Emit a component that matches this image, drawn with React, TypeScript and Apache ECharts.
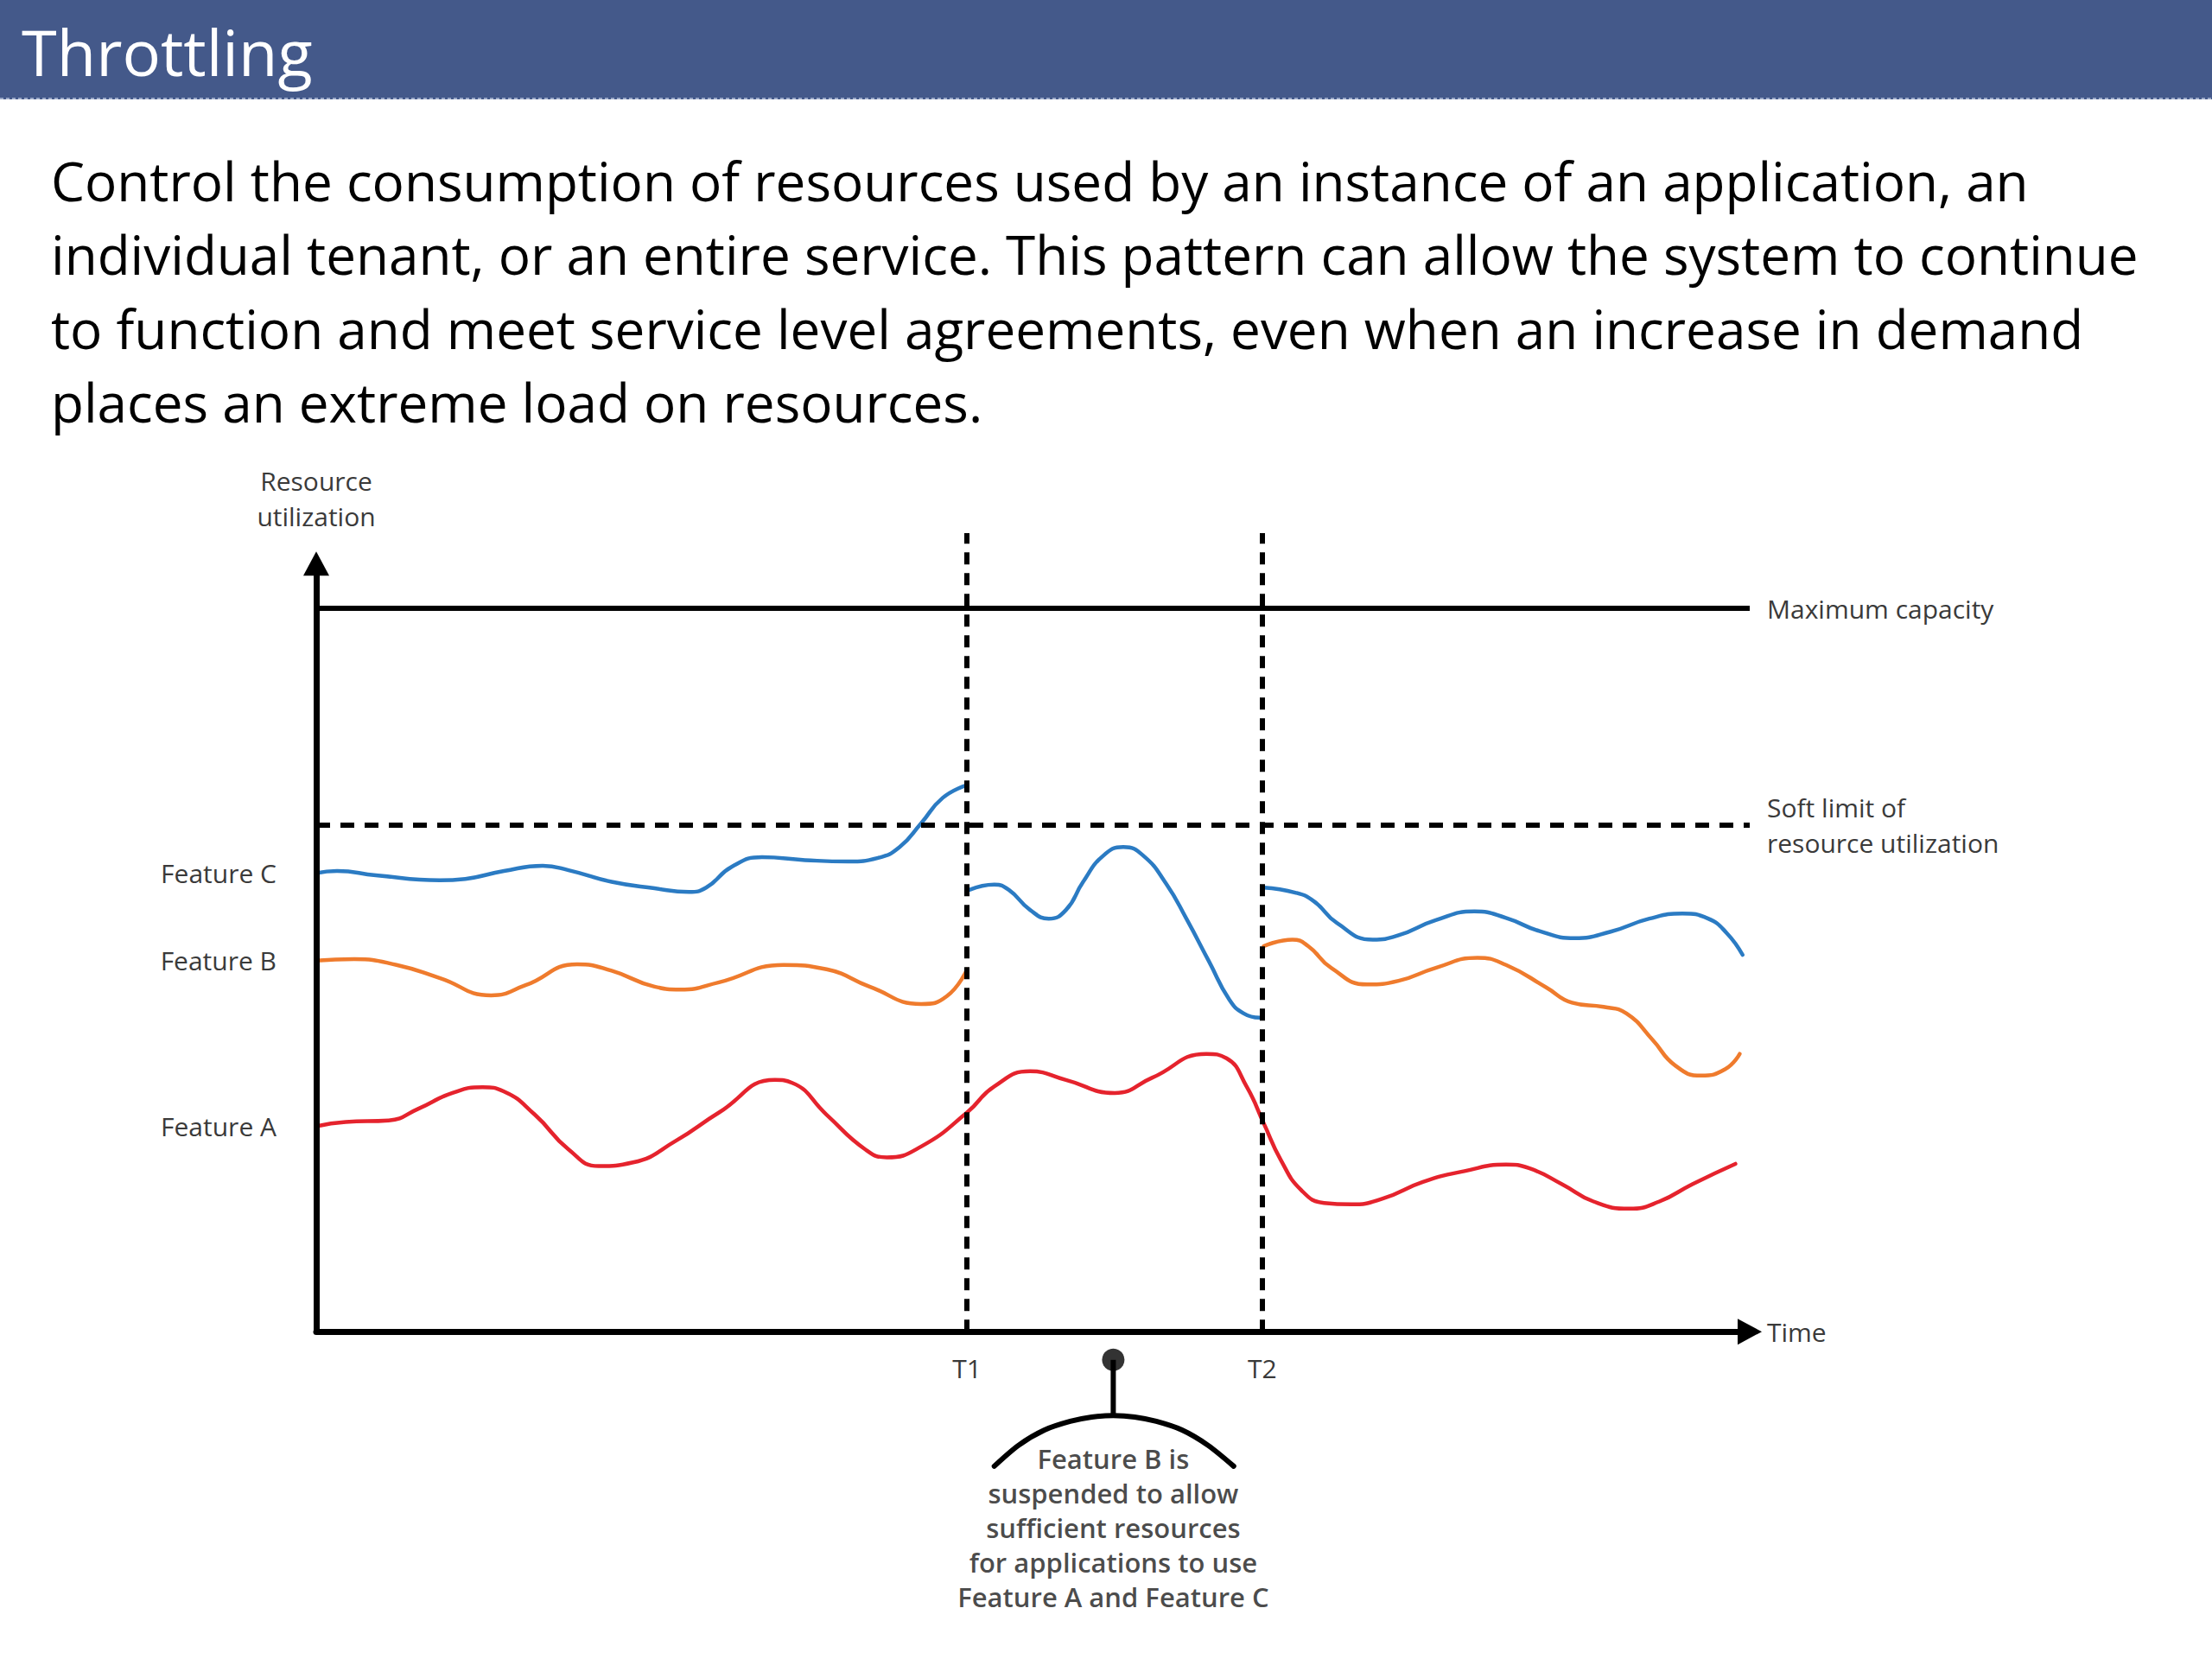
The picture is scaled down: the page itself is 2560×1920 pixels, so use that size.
import React, { useEffect, useRef } from "react";
import * as echarts from "echarts";

// ---------- text ----------
const TITLE = "Throttling";
const PARAGRAPH_LINES = [
  "Control the consumption of resources used by an instance of an application, an",
  "individual tenant, or an entire service. This pattern can allow the system to continue",
  "to function and meet service level agreements, even when an increase in demand",
  "places an extreme load on resources.",
];
const Y_AXIS_NAME = "Resource\nutilization";
const X_AXIS_NAME = "Time";
const MAX_CAPACITY_LABEL = "Maximum capacity";
const SOFT_LIMIT_LABEL = "Soft limit of\nresource utilization";
const CALLOUT_TEXT =
  "Feature B is\nsuspended to allow\nsufficient resources\nfor applications to use\nFeature A and Feature C";

// ---------- levels / time marks ----------
const MAX_CAPACITY = 100;
const SOFT_LIMIT = 70;
const TIME_MARKS = [45.4, 66.0];
const TIME_LABELS = ["T1", "T2"];
const T_LINE_TOP = 110.4;
const Y_ARROW_TOP = 106.2;

// ---------- series (time 0..100, utilization: max capacity = 100) ----------
const FEATURE_C_1 = [
  [0, 63.4], [1.45, 63.7], [4.16, 63.1], [8.62, 62.4], [10.4, 62.6], [13.1, 63.7],
  [15.8, 64.4], [17.6, 63.8], [20.6, 62.2], [23.6, 61.3], [26.0, 60.8], [27.2, 61.4],
  [29.0, 64.3], [31.1, 65.6], [34.1, 65.2], [37.1, 65.0], [39.2, 65.5], [40.7, 67.0],
  [42.2, 70.3], [43.7, 73.8], [45.3, 75.5],
];
const FEATURE_C_2 = [
  [45.6, 61.1], [47.3, 61.8], [48.3, 61.1], [49.8, 58.3], [51.1, 57.1], [52.3, 58.3],
  [53.5, 62.2], [54.9, 65.8], [56.3, 67.0], [57.7, 65.8], [59.3, 61.9], [60.7, 57.1],
  [62.3, 51.1], [63.7, 45.9], [64.7, 44.0], [65.8, 43.4],
];
const FEATURE_C_3 = [
  [66.1, 61.4], [68.3, 60.7], [69.6, 59.5], [71.2, 56.5], [73.7, 54.2], [75.5, 54.8],
  [78.1, 56.9], [80.8, 58.1], [83.0, 57.2], [85.3, 55.4], [87.8, 54.4], [90.3, 55.3],
  [93.0, 57.1], [95.3, 57.8], [97.1, 57.1], [98.4, 55.1], [99.5, 52.1],
];
const FEATURE_B_1 = [
  [0, 51.3], [2.65, 51.5], [5.6, 50.7], [8.6, 48.9], [12.2, 46.5], [14.6, 47.9],
  [18.2, 50.8], [20.6, 49.9], [23.6, 47.7], [25.4, 47.3], [28.1, 48.3], [32.6, 50.7],
  [35.6, 50.1], [38.6, 47.7], [42.2, 45.3], [44.0, 46.4], [45.4, 50.1],
];
const FEATURE_B_3 = [
  [66.1, 53.3], [68.1, 54.2], [69.2, 53.3], [70.8, 50.3], [73.3, 48.0], [75.5, 48.5],
  [78.1, 50.3], [81.0, 51.7], [83.0, 50.7], [85.8, 47.6], [87.6, 45.5], [89.8, 44.9],
  [91.4, 44.0], [93.2, 40.4], [94.8, 36.8], [96.6, 35.4], [98.3, 36.3], [99.3, 38.4],
];
const FEATURE_A = [
  [0, 28.4], [2.05, 29.0], [5.06, 29.2], [7.1, 30.8], [9.5, 33.0], [11.6, 33.8],
  [13.1, 33.2], [15.25, 30.0], [17.6, 25.2], [19.7, 22.9], [22.1, 23.4], [25.1, 26.4],
  [28.1, 30.3], [32.0, 34.8], [33.2, 34.4], [35.6, 30.0], [38.3, 25.2], [39.8, 24.1],
  [42.2, 25.6], [45.4, 30.3], [47.3, 33.9], [49.8, 36.0], [52.3, 34.8], [55.7, 33.0],
  [58.3, 35.1], [62.1, 38.4], [63.5, 37.8], [64.9, 33.9], [66.1, 28.8], [67.3, 23.7],
  [68.7, 19.6], [70.3, 17.8], [72.2, 17.6], [74.4, 18.4], [77.2, 20.7], [80.1, 22.2],
  [83.0, 23.1], [84.6, 22.6], [86.9, 20.4], [89.1, 18.0], [91.6, 17.0], [93.7, 18.0],
  [96.0, 20.4], [99.0, 23.2],
];

// ---------- callout (below the time axis) ----------
const CALLOUT_DOT = [55.6, -3.9];
const CALLOUT_STEM = [[55.6, -3.9], [55.6, -11.6]];
const CALLOUT_ARC = [
  [47.3, -18.6], [49.0, -15.7], [50.8, -13.6], [52.6, -12.4], [54.1, -11.8], [55.6, -11.6],
  [57.1, -11.8], [58.6, -12.4], [60.4, -13.6], [62.2, -15.7], [64.0, -18.6],
];

const COLORS = { A: "#E5232D", B: "#EF7B2D", C: "#2B7BC3" };
const FONT = "Open Sans";
const LABEL_COLOR = "#3a3a3a";

const GAP = (x: number) => [x, "-"];

export default function App() {
  const ref = useRef<HTMLDivElement>(null);

  useEffect(() => {
    if (!ref.current) return;
    const chart = echarts.init(ref.current, null, { renderer: "svg" });

    const featureLabelValues = [FEATURE_C_1[0][1], FEATURE_B_1[0][1], FEATURE_A[0][1]];
    const featureLabelNames = ["Feature C", "Feature B", "Feature A"];

    const lineSeries = (name: string, color: string, data: any[]) => ({
      name,
      type: "line",
      data,
      smooth: 0.5,
      symbol: "none",
      clip: false,
      connectNulls: false,
      z: 2,
      lineStyle: { color, width: 4.5, cap: "round", join: "round" },
      emphasis: { disabled: true },
    });

    const option: any = {
      animation: false,
      backgroundColor: "#ffffff",
      textStyle: { fontFamily: FONT },
      grid: { left: 366, right: 535, top: 612, bottom: 44, containLabel: false },
      xAxis: {
        type: "value",
        min: 0,
        max: 100,
        name: X_AXIS_NAME,
        nameLocation: "end",
        nameGap: 20,
        nameTextStyle: { fontSize: 30, color: LABEL_COLOR, fontFamily: FONT },
        axisLine: {
          show: true,
          onZero: true,
          symbol: ["none", "triangle"],
          symbolSize: [30, 28],
          lineStyle: { color: "#000", width: 7 },
        },
        axisTick: { show: false },
        splitLine: { show: false },
        axisLabel: { show: false },
      },
      yAxis: {
        type: "value",
        min: -40,
        max: 111,
        name: Y_AXIS_NAME,
        nameLocation: "end",
        nameGap: -6,
        nameTextStyle: { fontSize: 30, lineHeight: 41, color: LABEL_COLOR, fontFamily: FONT, align: "center" },
        axisLine: { show: false },
        axisTick: { show: false },
        splitLine: { show: false },
        axisLabel: {
          show: true,
          customValues: featureLabelValues,
          margin: 46,
          fontSize: 30,
          color: LABEL_COLOR,
          fontFamily: FONT,
          formatter: (v: number) => {
            const i = featureLabelValues.findIndex((t) => Math.abs(t - v) < 1e-6);
            return i >= 0 ? featureLabelNames[i] : "";
          },
        },
      },
      graphic: [
        { type: "rect", z: -10, shape: { x: 0, y: 0, width: 2560, height: 115 }, style: { fill: "#44598A" } },
        {
          type: "line",
          shape: { x1: 0, y1: 114, x2: 2560, y2: 114 },
          style: { stroke: "#9aa8c8", lineWidth: 2, lineDash: [4, 3] },
        },
        {
          type: "text",
          x: 25,
          y: 59,
          style: {
            text: TITLE,
            fill: "#ffffff",
            fontSize: 74,
            fontFamily: FONT,
            align: "left",
            verticalAlign: "middle",
            textAlign: "left",
            textVerticalAlign: "middle",
          },
        },
        ...PARAGRAPH_LINES.map((t, i) => ({
          type: "text",
          x: 59,
          y: 209 + i * 85.3,
          style: {
            text: t,
            fill: "#000000",
            fontSize: 62,
            fontFamily: FONT,
            align: "left",
            verticalAlign: "middle",
            textAlign: "left",
            textVerticalAlign: "middle",
          },
        })),
      ],
      series: [
        lineSeries("Feature A", COLORS.A, FEATURE_A),
        lineSeries("Feature B", COLORS.B, [...FEATURE_B_1, GAP(55), ...FEATURE_B_3]),
        lineSeries("Feature C", COLORS.C, [
          ...FEATURE_C_1,
          GAP(45.45),
          ...FEATURE_C_2,
          GAP(65.95),
          ...FEATURE_C_3,
        ]),
        {
          name: "reference",
          type: "line",
          data: [],
          clip: false,
          z: 3,
          markLine: {
            silent: true,
            animation: false,
            symbol: ["none", "none"],
            data: [
              [
                {
                  coord: [0, MAX_CAPACITY],
                  lineStyle: { color: "#000", width: 6, type: "solid" },
                  label: {
                    show: true,
                    position: "end",
                    distance: 20,
                    formatter: MAX_CAPACITY_LABEL,
                    fontSize: 30,
                    color: LABEL_COLOR,
                    fontFamily: FONT,
                  },
                },
                { coord: [100, MAX_CAPACITY] },
              ],
              [
                {
                  coord: [0, SOFT_LIMIT],
                  lineStyle: { color: "#000", width: 6, type: [16, 12] },
                  label: {
                    show: true,
                    position: "end",
                    distance: 20,
                    formatter: SOFT_LIMIT_LABEL,
                    fontSize: 30,
                    lineHeight: 41,
                    align: "left",
                    color: LABEL_COLOR,
                    fontFamily: FONT,
                  },
                },
                { coord: [100, SOFT_LIMIT] },
              ],
              ...TIME_MARKS.map((t, i) => [
                {
                  coord: [t, 0],
                  lineStyle: { color: "#000", width: 6, type: [14, 10] },
                  label: {
                    show: true,
                    position: "start",
                    distance: 27,
                    formatter: TIME_LABELS[i],
                    fontSize: 30,
                    color: LABEL_COLOR,
                    fontFamily: FONT,
                  },
                },
                { coord: [t, T_LINE_TOP] },
              ]),
              [
                { coord: [0, 0], lineStyle: { color: "#000", width: 7, type: "solid" }, label: { show: false } },
                { coord: [0, Y_ARROW_TOP], symbol: "triangle", symbolSize: [30, 28] },
              ],
            ],
          },
        },
        {
          name: "callout-arc",
          type: "line",
          data: CALLOUT_ARC,
          smooth: 0.3,
          symbol: "none",
          clip: false,
          lineStyle: { color: "#000", width: 6, cap: "round" },
          emphasis: { disabled: true },
        },
        {
          name: "callout-stem",
          type: "line",
          data: CALLOUT_STEM,
          symbol: "none",
          clip: false,
          lineStyle: { color: "#000", width: 6 },
          emphasis: { disabled: true },
        },
        {
          name: "callout-dot",
          type: "scatter",
          data: [CALLOUT_DOT],
          symbol: "circle",
          symbolSize: 26,
          clip: false,
          itemStyle: { color: "#000" },
          label: {
            show: true,
            position: "bottom",
            distance: 81,
            formatter: CALLOUT_TEXT,
            fontSize: 31,
            lineHeight: 40,
            fontWeight: 600,
            align: "center",
            color: "#1a1a1a",
            fontFamily: FONT,
          },
          emphasis: { disabled: true },
        },
      ],
    };

    chart.setOption(option);
    return () => chart.dispose();
  }, []);

  return (
    <div
      ref={ref}
      style={{ position: "absolute", left: 0, top: 0, width: 2560, height: 1920, background: "#fff" }}
    />
  );
}
